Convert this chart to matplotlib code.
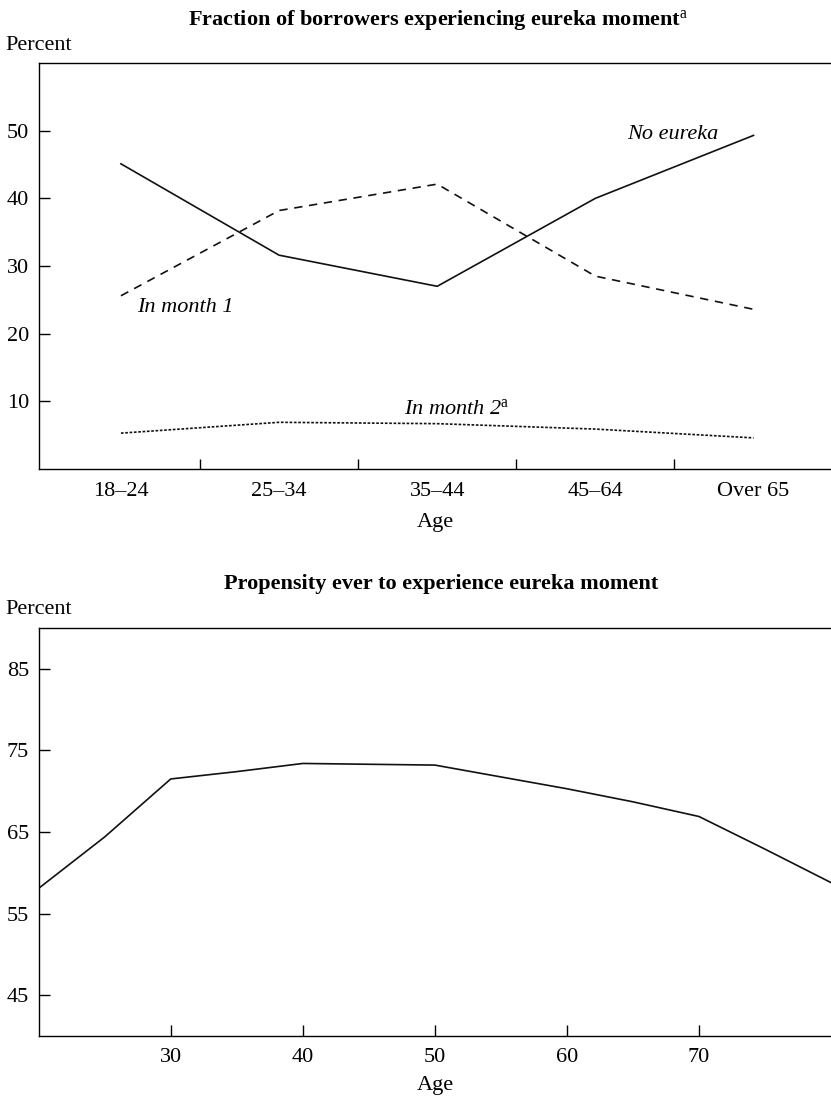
import matplotlib
matplotlib.use("Agg")
import matplotlib.pyplot as plt
import numpy as np

plt.rcParams['font.family'] = ['Liberation Serif', 'DejaVu Serif']
plt.rcParams['mathtext.fontset'] = 'custom'
plt.rcParams['mathtext.rm'] = 'Liberation Serif'
plt.rcParams['mathtext.it'] = 'Liberation Serif:italic'
plt.rcParams['mathtext.bf'] = 'Liberation Serif:bold'

# ---- data: top panel ----
age_groups = ['18–24', '25–34', '35–44', '45–64', 'Over 65']
no_eureka = [45.1, 31.6, 27.0, 40.0, 49.3]
in_month1 = [25.6, 38.2, 42.1, 28.5, 23.6]
in_month2 = [5.3, 6.9, 6.7, 5.9, 4.6]

# ---- data: bottom panel ----
ages = [20, 25, 30, 35, 40, 45, 50, 55, 60, 65, 70, 75, 80]
propensity = [58.1, 64.4, 71.5, 72.4, 73.4, 73.3, 73.2, 71.75, 70.3, 68.7, 66.9, 62.9, 58.8]

W, H = 831, 1099
fig = plt.figure(figsize=(W / 100, H / 100), dpi=100)

def fy(px):
    return 1 - px / H

def fx(px):
    return px / W

FS = 16

# top axes
axL = fx(38.7)
ax1 = fig.add_axes([axL, fy(469), 1 - axL, fy(63) - fy(469)])
x = np.arange(len(age_groups))
ax1.plot(x, no_eureka, color='#111111', lw=1.2, ls='-')
ax1.plot(x, in_month1, color='#111111', lw=1.2, ls=(0, (5, 4)))
ax1.plot(x, in_month2, color='#111111', lw=1.2, ls=(0, (1.6, 1.0)))
ax1.set_xlim(-0.52, 4.49)
ax1.set_ylim(0, 60)
ax1.set_yticks([10, 20, 30, 40, 50])
ax1.set_xticks(x)
ax1.set_xticklabels(age_groups)
ax1.set_xticks(np.arange(0.5, 4, 1), minor=True)
ax1.tick_params(axis='x', which='major', length=0, labelsize=FS, pad=9)
ax1.tick_params(axis='x', which='minor', direction='in', length=7, width=1)
ax1.tick_params(axis='y', direction='in', length=8, width=1, labelsize=FS, pad=7)
ax1.spines['right'].set_visible(False)
for s in ['left', 'top', 'bottom']:
    ax1.spines[s].set_linewidth(1.0)
ax1.set_xlabel('Age', fontsize=FS, labelpad=9)

ax1.text(3.49, 49.5, 'No eureka', fontsize=FS, style='italic', ha='center', va='center')
ax1.text(0.1, 23.8, 'In month 1', fontsize=FS, style='italic', ha='left', va='center')
ax1.text(1.79, 8.9, r'In month 2$^{\mathrm{a}}$', fontsize=FS, style='italic', ha='left', va='center')

fig.text(0.527, fy(25), r'Fraction of borrowers experiencing eureka moment$^{\mathrm{a}}$',
         fontsize=FS, fontweight='bold', ha='center', va='baseline')
fig.text(fx(5), fy(50), 'Percent', fontsize=FS, ha='left', va='baseline')

# bottom axes
ax2 = fig.add_axes([axL, fy(1036), 1 - axL, fy(628) - fy(1036)])
ax2.plot(ages, propensity, color='#111111', lw=1.2)
ax2.set_xlim(20, 80)
ax2.set_ylim(40, 90)
ax2.set_xticks([30, 40, 50, 60, 70])
ax2.set_yticks([45, 55, 65, 75, 85])
ax2.tick_params(axis='x', direction='in', length=8, width=1, labelsize=FS, pad=9)
ax2.tick_params(axis='y', direction='in', length=8, width=1, labelsize=FS, pad=7)
ax2.spines['right'].set_visible(False)
for s in ['left', 'top', 'bottom']:
    ax2.spines[s].set_linewidth(1.0)
ax2.set_xlabel('Age', fontsize=FS, labelpad=6)

fig.text(0.531, fy(589), 'Propensity ever to experience eureka moment',
         fontsize=FS, fontweight='bold', ha='center', va='baseline')
fig.text(fx(5), fy(614), 'Percent', fontsize=FS, ha='left', va='baseline')

fig.savefig('out.png', dpi=100)
